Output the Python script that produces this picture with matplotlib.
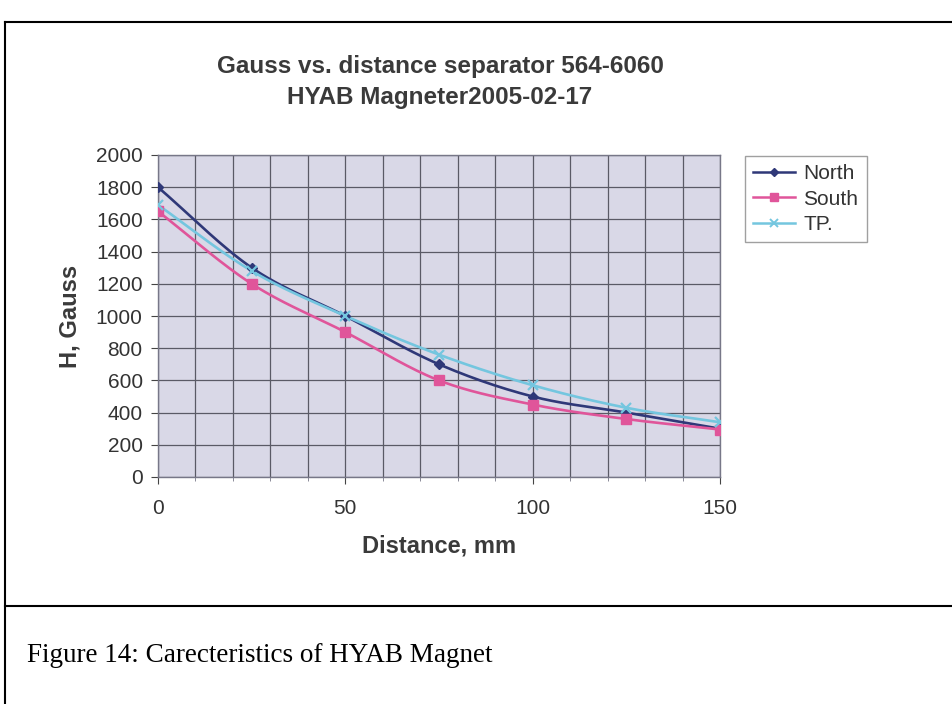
import numpy as np
import matplotlib
matplotlib.use("Agg")
import matplotlib.pyplot as plt
from matplotlib.ticker import MultipleLocator
from matplotlib.lines import Line2D

distance = [0, 25, 50, 75, 100, 125, 150]
north = [1800, 1300, 1000, 700, 500, 400, 300]
south = [1650, 1200, 900, 600, 450, 360, 295]
tp = [1690, 1280, 1000, 760, 570, 430, 340]
series_names = ["North", "South", "TP."]
title_text = "Gauss vs. distance separator 564-6060\nHYAB Magneter2005-02-17"
caption_text = "Figure 14: Carecteristics of HYAB Magnet"


def smooth(x, y, n=30):
    x = np.asarray(x, float)
    y = np.asarray(y, float)
    px = np.concatenate([[2 * x[0] - x[1]], x, [2 * x[-1] - x[-2]]])
    py = np.concatenate([[2 * y[0] - y[1]], y, [2 * y[-1] - y[-2]]])
    xs, ys = [], []
    t = np.linspace(0, 1, n)
    for i in range(1, len(px) - 2):
        p0, p1, p2, p3 = (np.array([px[j], py[j]]) for j in range(i - 1, i + 3))
        b0 = p1
        b1 = p1 + (p2 - p0) / 6
        b2 = p2 - (p3 - p1) / 6
        b3 = p2
        pts = ((1 - t) ** 3)[:, None] * b0 + (3 * (1 - t) ** 2 * t)[:, None] * b1 \
            + (3 * (1 - t) * t ** 2)[:, None] * b2 + (t ** 3)[:, None] * b3
        xs.append(pts[:, 0]); ys.append(pts[:, 1])
    return np.concatenate(xs), np.concatenate(ys)


plt.rcParams['font.family'] = ['Liberation Sans', 'DejaVu Sans']
fig = plt.figure(figsize=(9.53, 7.04), dpi=100)
W, H = 953, 704

ax = fig.add_axes([158 / W, 1 - 477 / H, (720 - 158) / W, (477 - 155) / H])
ax.set_facecolor('#d9d8e7')

colors = ['#2f3878', '#e0559a', '#74c6df']
markers = ['D', 's', 'x']
msizes = [5, 7, 7]
for vals, c, m, ms in zip([north, south, tp], colors, markers, msizes):
    sx, sy = smooth(distance, vals)
    ax.plot(sx, sy, color=c, lw=1.9, zorder=3)
    ax.plot(distance, vals, linestyle='none', marker=m, color=c, ms=ms,
            mew=1.6 if m == 'x' else 1, zorder=4)

ax.set_xlim(0, 150)
ax.set_ylim(0, 2000)
ax.xaxis.set_major_locator(MultipleLocator(50))
ax.xaxis.set_minor_locator(MultipleLocator(10))
ax.yaxis.set_major_locator(MultipleLocator(200))
ax.grid(which='both', color='#5a5a66', lw=0.9)
ax.set_axisbelow(True)
for s in ax.spines.values():
    s.set_color('#777788')
    s.set_linewidth(1.0)
ax.tick_params(axis='both', which='major', labelsize=15, colors='#444444',
               labelcolor='#333333', length=5, pad=6)
ax.tick_params(axis='x', which='minor', length=3, colors='#777788')
ax.tick_params(axis='x', which='major', pad=11)

ax.set_xlabel("Distance, mm", fontsize=17, fontweight='bold', color='#3a3a3a', labelpad=12)
ax.set_ylabel("H, Gauss", fontsize=17, fontweight='bold', color='#3a3a3a', labelpad=10)

fig.text(440 / W, 1 - 82 / H, title_text, ha='center', va='center', fontsize=17.5,
         fontweight='bold', color='#3a3a3a', linespacing=1.4)

handles = [Line2D([0], [0], color=c, lw=1.8, marker=m, ms=ms - 1, mew=1.4 if m == 'x' else 1)
           for c, m, ms in zip(colors, markers, msizes)]
leg = fig.legend(handles, series_names, loc='upper left',
                 bbox_to_anchor=(745 / W, 1 - 156 / H), fontsize=15, frameon=True,
                 fancybox=False, handlelength=2.0, borderpad=0.4, labelspacing=0.3,
                 handletextpad=0.4, borderaxespad=0)
leg.get_frame().set_edgecolor('#888888')
leg.get_frame().set_linewidth(1.0)
for t in leg.get_texts():
    t.set_color('#333333')

# document frame lines
fig.add_artist(Line2D([5 / W, 1], [1 - 22 / H, 1 - 22 / H], color='black', lw=1.5))
fig.add_artist(Line2D([5 / W, 5 / W], [0, 1 - 22 / H], color='black', lw=1.5))
fig.add_artist(Line2D([5 / W, 1], [1 - 606 / H, 1 - 606 / H], color='black', lw=1.5))

fig.text(27 / W, 1 - 655 / H, caption_text, ha='left', va='center', fontsize=19.5,
         family=['Liberation Serif', 'DejaVu Serif'], color='black')

fig.savefig("out.png", dpi=100)
